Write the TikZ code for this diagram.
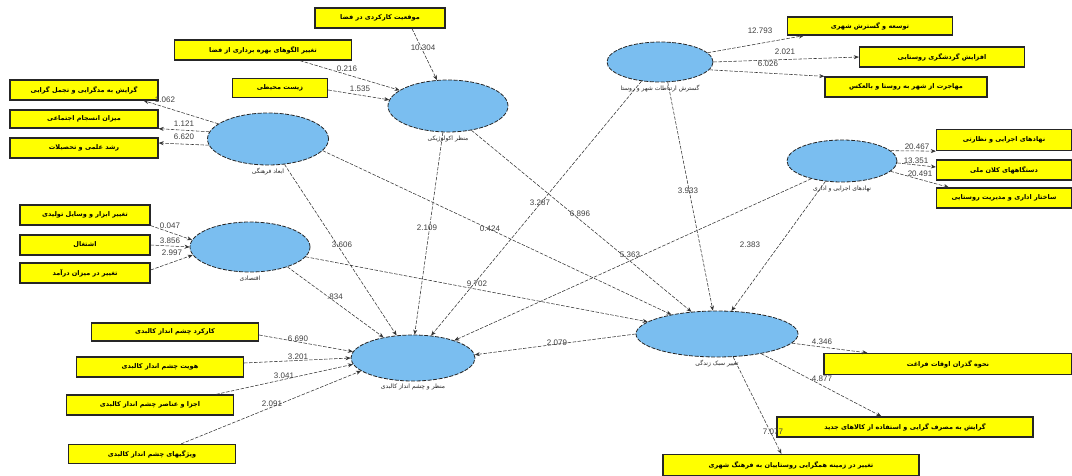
\documentclass[tikz,border=0pt]{standalone}
\usepackage{fontspec}
\setmainfont{Liberation Sans}
\newfontfamily\fa[Script=Arabic]{DejaVu Sans}
\TeXXeTstate=1
\usetikzlibrary{shapes.geometric,arrows.meta}
\newcommand\fat[1]{{\fa\beginR #1\endR}}
\definecolor{lvblue}{RGB}{122,190,240}
\definecolor{ybox}{RGB}{255,255,0}
\begin{document}
\begin{tikzpicture}[x=1pt,y=-1pt,
  lv/.style={ellipse, draw=black!85, dash pattern=on 4pt off 1.5pt, fill=lvblue, line width=0.8pt, inner sep=0pt},
  ind/.style={draw=black!85, line width=1.3pt, fill=ybox, inner sep=0pt, font=\fontsize{6.5}{7}\selectfont\bfseries},
  lnk/.style={draw=black!80, line width=0.55pt, dash pattern=on 3.5pt off 1.5pt, -{Stealth[length=5pt,width=4pt]}},
  num/.style={font=\fontsize{8}{9}\selectfont, text=black!75, inner sep=0pt},
  lbl/.style={font=\fontsize{6}{7}\selectfont, inner sep=0pt, text=black!85, anchor=north}]
\useasboundingbox[fill=white] (0,0) rectangle (1072,476);

% latent variables
\node[lv, minimum width=120pt, minimum height=52pt] (e1) at (448,106) {};
\node[lv, minimum width=121pt, minimum height=52pt] (e2) at (268,139) {};
\node[lv, minimum width=120pt, minimum height=50pt] (e3) at (250,247) {};
\node[lv, minimum width=124pt, minimum height=46pt] (e4) at (413,358) {};
\node[lv, minimum width=106pt, minimum height=40pt] (e5) at (660,62) {};
\node[lv, minimum width=110pt, minimum height=42pt] (e6) at (842,161) {};
\node[lv, minimum width=162pt, minimum height=46pt] (e7) at (717,334) {};

\node[lbl] (e1l) at ([yshift=-3pt]e1.south) {\fat{منظر اکولوژیکی}};
\node[lbl] (e2l) at ([yshift=-3pt]e2.south) {\fat{ابعاد فرهنگی}};
\node[lbl] (e3l) at ([yshift=-3pt]e3.south) {\fat{اقتصادی}};
\node[lbl] (e4l) at ([yshift=-2pt]e4.south) {\fat{منظر و چشم انداز کالبدی}};
\node[lbl] (e5l) at ([yshift=-3pt]e5.south) {\fat{گسترش ارتباطات شهر و روستا}};
\node[lbl] (e6l) at ([yshift=-3pt]e6.south) {\fat{نهادهای اجرایی و اداری}};
\node[lbl] (e7l) at ([yshift=-3pt]e7.south) {\fat{تغییر سبک زندگی}};

% indicators
\node[ind, minimum width=130pt, minimum height=20pt] (b1) at (380,18) {\fat{موقعیت کارکردی در فضا}};
\node[ind, minimum width=177pt, minimum height=20pt] (b2) at (263,50) {\fat{تغییر الگوهای بهره برداری از فضا}};
\node[ind, minimum width=95pt, minimum height=19pt] (b3) at (280,88) {\fat{زیست محیطی}};

\node[ind, minimum width=148pt, minimum height=20pt] (ba) at (84,90) {\fat{گرایش به مدگرایی و تجمل گرایی}};
\node[ind, minimum width=148pt, minimum height=18pt] (bb) at (84,119) {\fat{میزان انسجام اجتماعی}};
\node[ind, minimum width=148pt, minimum height=20pt] (bc) at (84,148) {\fat{رشد علمی و تحصیلات}};

\node[ind, minimum width=130pt, minimum height=20pt] (c1) at (85,215) {\fat{تغییر ابزار و وسایل تولیدی}};
\node[ind, minimum width=130pt, minimum height=20pt] (c2) at (85,245) {\fat{اشتغال}};
\node[ind, minimum width=130pt, minimum height=20pt] (c3) at (85,273) {\fat{تغییر در میزان درآمد}};

\node[ind, minimum width=167pt, minimum height=18pt] (d1) at (175,332) {\fat{کارکرد چشم انداز کالبدی}};
\node[ind, minimum width=167pt, minimum height=20pt] (d2) at (160,367) {\fat{هویت چشم انداز کالبدی}};
\node[ind, minimum width=167pt, minimum height=20pt] (d3) at (150,405) {\fat{اجزا و عناصر چشم انداز کالبدی}};
\node[ind, minimum width=167pt, minimum height=19pt] (d4) at (152,454) {\fat{ویژگیهای چشم انداز کالبدی}};

\node[ind, minimum width=165pt, minimum height=18pt] (f1) at (870,26) {\fat{توسعه و گسترش شهری}};
\node[ind, minimum width=165pt, minimum height=20pt] (f2) at (942,57) {\fat{افزایش گردشگری روستایی}};
\node[ind, minimum width=162pt, minimum height=20pt] (f3) at (906,87) {\fat{مهاجرت از شهر به روستا و بالعکس}};

\node[ind, minimum width=135pt, minimum height=21pt] (g1) at (1004,140) {\fat{نهادهای اجرایی و نظارتی}};
\node[ind, minimum width=135pt, minimum height=20pt] (g2) at (1004,170) {\fat{دستگاههای کلان ملی}};
\node[ind, minimum width=135pt, minimum height=20pt] (g3) at (1004,198) {\fat{ساختار اداری و مدیریت روستایی}};

\node[ind, minimum width=248pt, minimum height=21pt] (h1) at (948,364) {\fat{نحوه گذران اوقات فراغت}};
\node[ind, minimum width=256pt, minimum height=20pt] (h2) at (905,427) {\fat{گرایش به مصرف گرایی و استفاده از کالاهای جدید}};
\node[ind, minimum width=256pt, minimum height=21pt] (h3) at (791,465) {\fat{تغییر در زمینه همگرایی روستاییان به فرهنگ شهری}};

% measurement links
\draw[lnk] ([xshift=32]b1.south) -- (e1.113);
\draw[lnk] ([xshift=37]b2.south) -- (e1.162);
\draw[lnk] ([yshift=-2]b3.east) -- (e1.174);

\draw[lnk] (e2.163) -- ([xshift=-15]ba.south east);
\draw[lnk] (e2.173) -- (bb.south east);
\draw[lnk] (e2.186) -- ([yshift=5]bc.east);

\draw[lnk] (c1.south east) -- (e3.173);
\draw[lnk] (c2.east) -- (e3.180);
\draw[lnk] ([yshift=3]c3.east) -- (e3.188);

\draw[lnk] ([yshift=-3]d1.east) -- (e4.174);
\draw[lnk] ([yshift=4]d2.east) -- (e4.180);
\draw[lnk] ([xshift=-18]d3.north east) -- (e4.186);
\draw[lnk] ([xshift=-55]d4.north east) -- (e4.194);

\draw[lnk] (e5.11) -- ([xshift=17]f1.south west);
\draw[lnk] (e5.0) -- (f2.west);
\draw[lnk] (e5.351) -- (f3.north west);

\draw[lnk] (e6.12) -- (g1.south west);
\draw[lnk] (e6.358) -- ([yshift=3]g2.west);
\draw[lnk] (e6.348) -- ([xshift=13]g3.north west);

\draw[lnk] (e7.353) -- ([xshift=44]h1.north west);
\draw[lnk] (e7.336) -- ([xshift=105]h2.north west);
\draw[lnk] (e7.305) -- ([xshift=119]h3.north west);

% structural links
\draw[lnk] (e1.259) -- (e4.86);
\draw[lnk] (e1.314) -- (e7.139);
\draw[lnk] (e2.303) -- (e4.126);
\draw[lnk] (e2.348) -- (e7.157);
\draw[lnk] (e3.332) -- (e4.145);
\draw[lnk] (e3.350) -- (e7.170);
\draw[lnk] (e5.226) -- (e4.51);
\draw[lnk] (e5.291) -- (e7.100);
\draw[lnk] (e6.210) -- (e4.23);
\draw[lnk] (e6.231) -- (e7.58);
\draw[lnk] (e7.180) -- (e4.3);

% numbers
\node[num] (n1) at (423,48) {10.304};
\node[num] (n2) at (347,69) {0.216};
\node[num] (n3) at (360,89) {1.535};
\node[num] (n4) at (165,100) {1.062};
\node[num] (n5) at (184,124) {1.121};
\node[num] (n6) at (184,137) {6.620};
\node[num] (n7) at (170,226) {0.047};
\node[num] (n8) at (170,241) {3.856};
\node[num] (n9) at (172,253) {2.997};
\node[num] (n10) at (298,339) {6.690};
\node[num] (n11) at (298,357) {3.201};
\node[num] (n12) at (284,376) {3.041};
\node[num] (n13) at (272,404) {2.091};
\node[num] (n14) at (760,31) {12.793};
\node[num] (n15) at (785,52) {2.021};
\node[num] (n16) at (768,64) {6.026};
\node[num] (n17) at (917,147) {20.467};
\node[num] (n18) at (916,161) {13.351};
\node[num] (n19) at (920,174) {20.491};
\node[num] (n20) at (822,342) {4.346};
\node[num] (n21) at (822,379) {4.877};
\node[num] (n22) at (773,432) {7.077};
\node[num] (n23) at (427,228) {2.109};
\node[num] (n24) at (342,245) {3.606};
\node[num] (n25) at (490,229) {0.424};
\node[num] (n26) at (540,203) {3.287};
\node[num] (n27) at (580,214) {6.896};
\node[num] (n28) at (630,255) {5.363};
\node[num] (n29) at (477,284) {9.702};
\node[num] (n30) at (335,297) {.834};
\node[num] (n31) at (688,191) {3.933};
\node[num] (n32) at (750,245) {2.383};
\node[num] (n33) at (557,343) {2.079};
\end{tikzpicture}
\end{document}
